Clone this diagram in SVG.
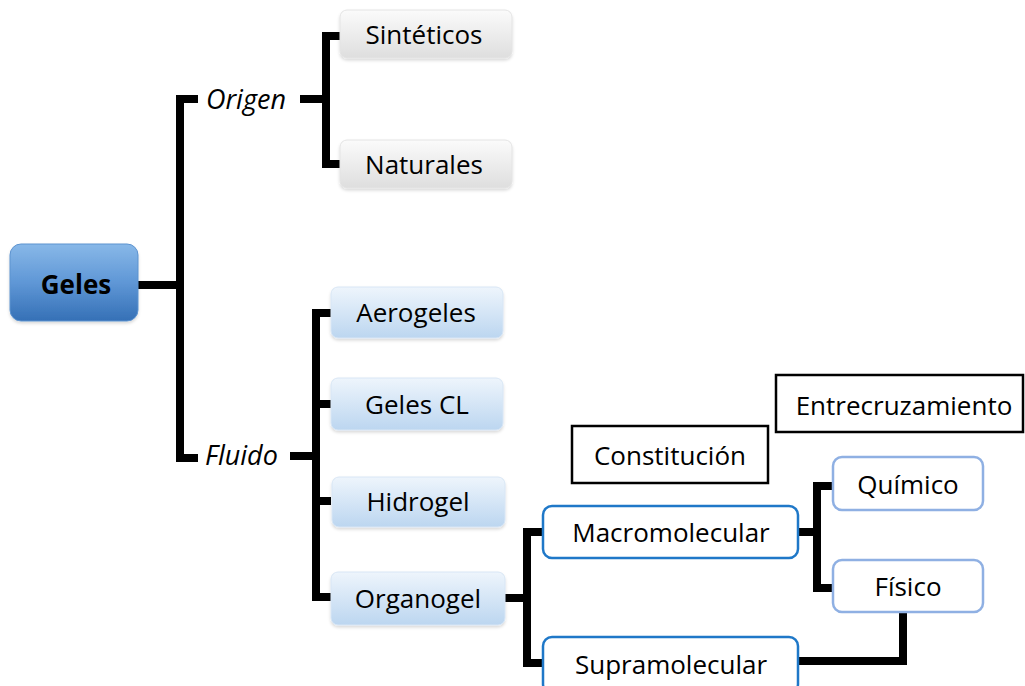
<svg xmlns="http://www.w3.org/2000/svg" width="1025" height="686" viewBox="0 0 1025 686">
  <style>
    text { font-family: "Open Sans", "Liberation Sans", sans-serif; font-size: 26px; fill: #000; }
    .c { text-anchor: middle; }
    .it { font-style: italic; font-size: 27px; }
    .gray { fill: url(#gGray); stroke: #e4e4e4; stroke-width: 1; filter: url(#soft); }
    .lb { fill: url(#gLight); stroke: #d8e6f5; stroke-width: 1; filter: url(#soft); }
    .ob { fill: #fff; stroke: #1f78c8; stroke-width: 2.5; }
    .ol { fill: #fff; stroke: #8fb0e3; stroke-width: 2.5; }
    .sq { fill: #fff; stroke: #000; stroke-width: 2.5; }
    .wire { fill: none; stroke: #000; stroke-width: 8; stroke-linejoin: miter; stroke-linecap: butt; }
  </style>
  <defs>
    <linearGradient id="gBlue" x1="0" y1="0" x2="0" y2="1">
      <stop offset="0" stop-color="#88b8e8"/>
      <stop offset="0.5" stop-color="#5f97d6"/>
      <stop offset="1" stop-color="#3570b6"/>
    </linearGradient>
    <linearGradient id="gLight" x1="0" y1="0" x2="0" y2="1">
      <stop offset="0" stop-color="#eef5fc"/>
      <stop offset="1" stop-color="#bcd6f0"/>
    </linearGradient>
    <linearGradient id="gGray" x1="0" y1="0" x2="0" y2="1">
      <stop offset="0" stop-color="#fbfbfb"/>
      <stop offset="1" stop-color="#dedede"/>
    </linearGradient>
    <filter id="soft" x="-10%" y="-20%" width="120%" height="150%">
      <feDropShadow dx="0" dy="2" stdDeviation="1.5" flood-color="#000" flood-opacity="0.15"/>
    </filter>
  </defs>

  <!-- connectors -->
  <g id="connectors" class="wire">
    <path d="M138 285 H180"/>
    <path d="M198 99 H180 V458 H198"/>
    <path d="M300 99 H326"/>
    <path d="M340 36 H326 V164 H340"/>
    <path d="M290 456 H316"/>
    <path d="M331 313 H316 V597 H331"/>
    <path d="M316 404 H331"/>
    <path d="M316 501 H331"/>
    <path d="M505 598 H527"/>
    <path d="M543 532 H527 V663 H543"/>
    <path d="M798 532 H817"/>
    <path d="M833 486 H817 V588 H833"/>
    <path d="M798 661 H903 V612"/>
  </g>

  <!-- root -->
  <g id="geles">
    <rect x="10" y="244" width="128" height="77" rx="11" fill="url(#gBlue)" stroke="#5d93cf" stroke-width="1" filter="url(#soft)"/>
    <text x="76" y="294" class="c" font-weight="bold" font-size="25">Geles</text>
  </g>

  <!-- category labels -->
  <g id="origen"><text x="206" y="109" class="it">Origen</text></g>
  <g id="fluido"><text x="205" y="465" class="it">Fluido</text></g>

  <!-- origin -->
  <g id="sinteticos">
    <rect x="340" y="10" width="172" height="48" rx="7" class="gray"/>
    <text x="424" y="44" class="c">Sintéticos</text>
  </g>
  <g id="naturales">
    <rect x="340" y="140" width="172" height="48" rx="7" class="gray"/>
    <text x="424" y="174" class="c">Naturales</text>
  </g>

  <!-- fluid -->
  <g id="aerogeles">
    <rect x="331" y="287" width="172" height="51" rx="7" class="lb"/>
    <text x="416" y="322" class="c">Aerogeles</text>
  </g>
  <g id="gelescl">
    <rect x="331" y="378" width="172" height="52" rx="7" class="lb"/>
    <text x="417" y="414" class="c">Geles CL</text>
  </g>
  <g id="hidrogel">
    <rect x="332" y="477" width="173" height="50" rx="7" class="lb"/>
    <text x="418" y="511" class="c">Hidrogel</text>
  </g>
  <g id="organogel">
    <rect x="331" y="572" width="174" height="53" rx="7" class="lb"/>
    <text x="418" y="608" class="c">Organogel</text>
  </g>

  <!-- headings -->
  <g id="constitucion">
    <rect x="572" y="426" width="196" height="57" class="sq"/>
    <text x="670" y="465" class="c">Constitución</text>
  </g>
  <g id="entrecruzamiento">
    <rect x="776" y="375" width="247" height="57" class="sq"/>
    <text x="904" y="415" class="c">Entrecruzamiento</text>
  </g>

  <!-- constitution -->
  <g id="macromolecular">
    <rect x="543" y="506" width="255" height="52" rx="9" class="ob"/>
    <text x="671" y="542" class="c">Macromolecular</text>
  </g>
  <g id="supramolecular">
    <rect x="543" y="637" width="255" height="56" rx="9" class="ob"/>
    <text x="671" y="674" class="c">Supramolecular</text>
  </g>

  <!-- crosslinking -->
  <g id="quimico">
    <rect x="833" y="457" width="150" height="53" rx="9" class="ol"/>
    <text x="908" y="494" class="c">Químico</text>
  </g>
  <g id="fisico">
    <rect x="833" y="560" width="150" height="52" rx="9" class="ol"/>
    <text x="908" y="596" class="c">Físico</text>
  </g>
</svg>
